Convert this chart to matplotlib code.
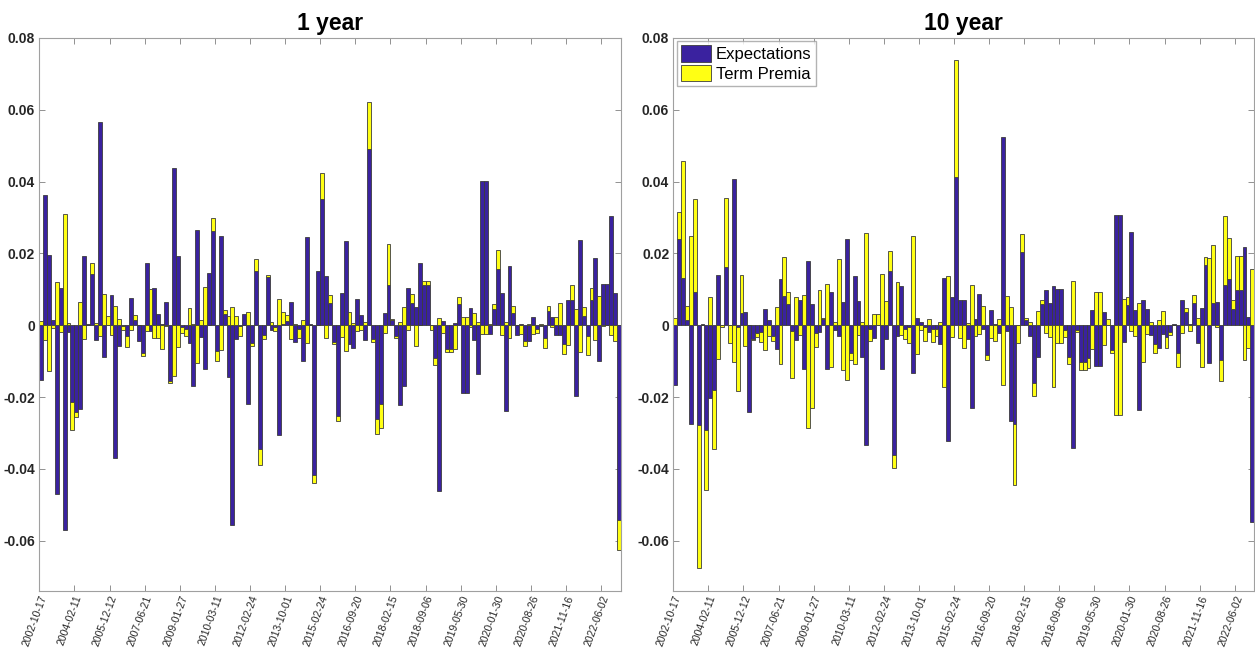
import matplotlib
matplotlib.use("Agg")
import matplotlib.pyplot as plt
import numpy as np

plt.rcParams['font.family'] = ['Liberation Sans', 'DejaVu Sans']

# tick labels (event dates), one every 9 bars
fechas = ['2002-10-17', '2004-02-11', '2005-12-12', '2007-06-21', '2009-01-27',
          '2010-03-11', '2012-02-24', '2013-10-01', '2015-02-24', '2016-09-20',
          '2018-02-15', '2018-09-06', '2019-05-30', '2020-01-30', '2020-08-26',
          '2021-11-16', '2022-06-02']

# 1 year - expectations component
exp_1y = [
    -0.0151, 0.0362, 0.0197, 0.0014, -0.0471, 0.0105, -0.0569, -0.0020, -0.0213, -0.0241,
    -0.0232, 0.0193, 0.0005, 0.0144, -0.0042, 0.0567, -0.0087, 0.0000, 0.0083, -0.0370,
    -0.0057, -0.0003, -0.0030, 0.0075, 0.0014, -0.0044, -0.0078, 0.0173, -0.0016, 0.0105,
    0.0032, 0.0005, 0.0065, -0.0156, 0.0438, 0.0194, -0.0006, -0.0011, -0.0048, -0.0169,
    0.0266, -0.0033, -0.0123, 0.0146, 0.0262, -0.0072, 0.0248, 0.0032, -0.0144, -0.0556,
    -0.0037, -0.0003, 0.0032, -0.0220, -0.0050, 0.0152, -0.0345, -0.0028, 0.0135, -0.0013,
    -0.0005, -0.0305, 0.0003, 0.0013, 0.0065, -0.0046, -0.0010, -0.0099, 0.0246, 0.0005,
    -0.0418, 0.0152, 0.0353, 0.0136, 0.0061, -0.0046, -0.0252, 0.0089, 0.0236, -0.0051,
    -0.0063, 0.0073, 0.0030, -0.0041, 0.0490, -0.0039, -0.0260, -0.0220, 0.0035, 0.0112,
    0.0015, -0.0030, -0.0221, -0.0170, 0.0103, 0.0063, 0.0051, 0.0173, 0.0112, 0.0112,
    0.0000, -0.0091, -0.0462, 0.0012, -0.0066, -0.0066, 0.0006, 0.0059, -0.0188, -0.0188,
    0.0048, -0.0041, -0.0135, 0.0402, 0.0402, -0.0023, 0.0045, 0.0157, 0.0091, -0.0240,
    0.0165, 0.0033, -0.0028, 0.0004, -0.0043, -0.0043, 0.0022, -0.0010, -0.0002, -0.0036,
    0.0041, 0.0022, -0.0028, -0.0028, -0.0051, 0.0070, 0.0070, -0.0198, 0.0237, 0.0026,
    -0.0030, 0.0071, 0.0188, -0.0100, 0.0116, 0.0116, 0.0305, 0.0091, -0.0543]

# 1 year - term premia component
tp_1y = [
    0.0012, -0.0040, -0.0128, -0.0008, 0.0120, -0.0020, 0.0310, 0.0007, -0.0079, -0.0015,
    0.0066, -0.0038, 0.0000, 0.0029, 0.0007, -0.0029, 0.0088, 0.0027, -0.0026, 0.0054,
    0.0017, -0.0011, -0.0030, -0.0014, 0.0016, 0.0000, -0.0008, -0.0016, 0.0101, -0.0034,
    -0.0034, -0.0066, -0.0002, -0.0006, -0.0142, -0.0061, -0.0015, -0.0019, 0.0049, 0.0005,
    -0.0105, 0.0014, 0.0107, 0.0000, 0.0036, -0.0028, -0.0068, 0.0011, 0.0025, 0.0051,
    0.0027, -0.0026, 0.0000, 0.0037, -0.0008, 0.0033, -0.0043, -0.0010, 0.0005, 0.0008,
    -0.0010, 0.0073, 0.0033, 0.0017, -0.0039, 0.0003, -0.0025, 0.0016, -0.0050, 0.0000,
    -0.0022, 0.0000, 0.0070, -0.0036, 0.0022, -0.0007, -0.0015, -0.0032, -0.0071, 0.0038,
    0.0007, -0.0015, -0.0013, 0.0008, 0.0131, -0.0008, -0.0043, -0.0067, -0.0022, 0.0114,
    0.0002, -0.0005, 0.0010, 0.0051, -0.0012, 0.0024, -0.0057, 0.0000, 0.0012, 0.0012,
    -0.0012, -0.0020, 0.0020, -0.0022, -0.0008, -0.0008, -0.0067, 0.0020, 0.0022, 0.0022,
    -0.0005, 0.0034, 0.0008, -0.0023, -0.0023, 0.0005, 0.0014, 0.0054, -0.0028, 0.0008,
    -0.0036, 0.0020, 0.0002, -0.0023, -0.0015, 0.0004, -0.0025, -0.0012, 0.0004, -0.0027,
    0.0012, -0.0006, 0.0022, 0.0062, -0.0028, -0.0056, 0.0042, 0.0044, -0.0073, 0.0024,
    -0.0054, 0.0034, -0.0041, 0.0081, -0.0001, 0.0000, -0.0028, -0.0043, -0.0084]

# 10 year - expectations component
exp_10y = [
    -0.0167, 0.0239, 0.0132, 0.0015, -0.0274, 0.0093, -0.0277, 0.0005, -0.0291, -0.0202,
    -0.0180, 0.0140, 0.0002, 0.0162, 0.0000, 0.0406, -0.0005, 0.0034, 0.0038, -0.0241,
    -0.0037, -0.0022, -0.0020, 0.0045, 0.0014, -0.0030, -0.0067, 0.0129, 0.0082, 0.0058,
    -0.0016, -0.0040, 0.0071, -0.0122, 0.0180, 0.0059, -0.0022, -0.0020, 0.0017, -0.0122,
    0.0093, -0.0012, -0.0030, 0.0066, 0.0240, -0.0077, 0.0136, 0.0069, -0.0087, -0.0333,
    -0.0010, -0.0035, 0.0000, -0.0122, -0.0039, 0.0150, -0.0360, -0.0030, 0.0109, -0.0010,
    -0.0005, -0.0134, 0.0020, 0.0010, -0.0005, -0.0018, -0.0010, -0.0010, -0.0053, 0.0132,
    -0.0322, 0.0079, 0.0413, 0.0071, 0.0071, -0.0039, -0.0231, 0.0018, 0.0088, -0.0010,
    -0.0084, 0.0043, 0.0004, -0.0022, 0.0525, -0.0015, -0.0266, -0.0276, 0.0000, 0.0203,
    0.0015, -0.0030, -0.0160, -0.0087, 0.0059, 0.0098, 0.0061, 0.0109, 0.0102, 0.0102,
    -0.0013, -0.0088, -0.0343, -0.0013, -0.0103, -0.0103, -0.0091, 0.0043, -0.0112, -0.0112,
    0.0038, 0.0000, -0.0068, 0.0307, 0.0307, -0.0047, 0.0056, 0.0261, 0.0043, -0.0236,
    0.0071, 0.0046, -0.0028, -0.0051, -0.0062, -0.0025, -0.0033, -0.0020, 0.0004, -0.0078,
    0.0071, 0.0038, 0.0005, 0.0061, -0.0049, 0.0049, 0.0167, -0.0104, 0.0061, 0.0064,
    -0.0096, 0.0112, 0.0129, 0.0044, 0.0099, 0.0099, 0.0218, 0.0022, -0.0548]

# 10 year - term premia component
tp_10y = [
    0.0020, 0.0076, 0.0326, 0.0040, 0.0249, 0.0259, -0.0399, 0.0000, -0.0167, 0.0080,
    -0.0165, -0.0094, -0.0005, 0.0193, -0.0050, -0.0101, -0.0178, 0.0106, -0.0057, 0.0000,
    -0.0005, -0.0010, -0.0027, -0.0070, -0.0030, -0.0013, 0.0050, -0.0107, 0.0108, 0.0035,
    -0.0131, 0.0079, -0.0028, 0.0083, -0.0287, -0.0231, -0.0038, 0.0098, 0.0003, 0.0115,
    -0.0117, 0.0010, 0.0185, -0.0124, -0.0152, -0.0019, -0.0108, -0.0028, 0.0008, 0.0257,
    -0.0035, 0.0032, 0.0032, 0.0142, 0.0069, 0.0056, -0.0036, 0.0120, -0.0026, -0.0029,
    -0.0043, 0.0249, -0.0081, -0.0013, -0.0038, 0.0017, -0.0037, -0.0020, 0.0010, -0.0172,
    0.0138, -0.0033, 0.0325, -0.0035, -0.0063, 0.0007, 0.0112, -0.0030, -0.0023, 0.0053,
    -0.0013, -0.0035, -0.0043, 0.0017, -0.0167, 0.0081, 0.0051, -0.0170, -0.0048, 0.0051,
    0.0006, 0.0010, -0.0038, 0.0039, 0.0012, -0.0022, -0.0033, -0.0172, -0.0049, -0.0049,
    -0.0020, -0.0020, 0.0124, -0.0005, -0.0021, -0.0021, -0.0028, -0.0067, 0.0094, 0.0094,
    -0.0056, 0.0017, -0.0008, -0.0251, -0.0251, 0.0073, 0.0022, -0.0015, -0.0030, 0.0063,
    -0.0101, -0.0023, 0.0008, -0.0027, 0.0016, 0.0040, -0.0030, -0.0008, 0.0000, -0.0039,
    -0.0022, 0.0011, -0.0016, 0.0022, 0.0020, -0.0117, 0.0023, 0.0188, 0.0162, -0.0005,
    -0.0058, 0.0193, 0.0115, 0.0027, 0.0093, 0.0093, -0.0098, -0.0064, 0.0157]

azul = '#3a229f'
amarillo = '#ffff14'
borde = '#3c3c3c'


def barras_apiladas(ax, expect, prem):
    e = np.array(expect)
    p = np.array(prem)
    x = np.arange(len(e)) + 0.5
    # positives stack up, negatives stack down (MATLAB style)
    base_p = np.where(np.sign(p) == np.sign(e), e, 0.0)
    ax.bar(x, e, width=1.0, color=azul, edgecolor=borde, linewidth=0.6,
           label='Expectations', zorder=2)
    ax.bar(x, p, width=1.0, bottom=base_p, color=amarillo, edgecolor=borde,
           linewidth=0.6, label='Term Premia', zorder=2)
    ax.set_xlim(0, len(e))
    ax.set_ylim(-0.0741, 0.08)
    ax.set_xticks(np.arange(0, len(e), 9))
    ax.set_xticklabels(fechas, rotation=70, ha='right', rotation_mode='anchor',
                       fontsize=7.5, color='#262626')
    yt = [-0.06, -0.04, -0.02, 0, 0.02, 0.04, 0.06, 0.08]
    ax.set_yticks(yt)
    ax.set_yticklabels(['-0.06', '-0.04', '-0.02', '0', '0.02', '0.04', '0.06', '0.08'],
                       fontsize=10, fontweight='bold', color='#262626')
    ax.tick_params(direction='in', top=True, right=True, length=4, width=0.6,
                   color='#808080', pad=3)
    ax.tick_params(axis='x', pad=2)
    for s in ax.spines.values():
        s.set_color('#a0a0a0')
        s.set_linewidth(0.8)


fig = plt.figure(figsize=(12.55, 6.54), dpi=100)
ax1 = fig.add_axes([0.0313, 0.0957, 0.4633, 0.8462])
ax2 = fig.add_axes([0.5365, 0.0957, 0.4629, 0.8462])

barras_apiladas(ax1, exp_1y, tp_1y)
ax1.set_title('1 year', fontsize=16.5, fontweight='bold', pad=6)

barras_apiladas(ax2, exp_10y, tp_10y)
ax2.set_title('10 year', fontsize=16.5, fontweight='bold', pad=6)
ax2.legend(loc='upper left', fontsize=12, frameon=True, fancybox=False,
           edgecolor='#a0a0a0', borderaxespad=0.2, handlelength=1.8,
           handleheight=1.15, handletextpad=0.3, borderpad=0.25, labelspacing=0.15)

fig.savefig('out.png', dpi=100)
